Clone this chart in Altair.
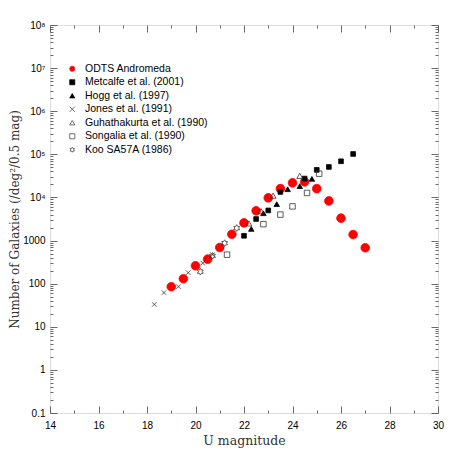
import altair as alt
import pandas as pd

series_names = [
    "ODTS Andromeda",
    "Metcalfe et al. (2001)",
    "Hogg et al. (1997)",
    "Jones et al. (1991)",
    "Guhathakurta et al. (1990)",
    "Songalia et al. (1990)",
    "Koo SA57A (1986)",
]

odts_mag = [19.0, 19.5, 20.0, 20.5, 21.0, 21.5, 22.0, 22.5, 23.0, 23.5, 24.0, 24.5, 25.0, 25.5, 26.0, 26.5, 27.0]
odts_n = [85, 130, 260, 370, 690, 1400, 2570, 4900, 9800, 16000, 21800, 23000, 16000, 8300, 3300, 1380, 680]

metcalfe_mag = [22.0, 22.5, 23.0, 23.5, 24.5, 25.0, 25.5, 26.0, 26.5]
metcalfe_n = [1290, 3160, 5000, 13400, 27400, 43600, 51000, 69000, 102000]

hogg_mag = [22.3, 22.8, 23.35, 23.8, 24.3, 24.8]
hogg_n = [1860, 4300, 7000, 15500, 18300, 27000]

jones_mag = [18.3, 18.7, 19.3, 19.7, 20.3, 20.7]
jones_n = [33, 62, 85, 180, 300, 470]

guha_mag = [22.2, 22.7, 23.2, 24.3]
guha_n = [2500, 4800, 11000, 31700]

song_mag = [21.3, 22.8, 23.5, 24.0, 24.6, 25.1]
song_n = [470, 2400, 4000, 6200, 12700, 35600]

koo_mag = [20.2, 20.7, 21.2, 21.7]
koo_n = [190, 440, 870, 1950]

x_major = [14, 16, 18, 20, 22, 24, 26, 28, 30]
x_minor = [15, 17, 19, 21, 23, 25, 27, 29]
y_major = [0.1, 1, 10, 100, 1000, 1e4, 1e5, 1e6, 1e7, 1e8]
y_labels = ["0.1", "1", "10", "100", "1000", "10⁴", "10⁵", "10⁶", "10⁷", "10⁸"]
y_minor = [m * 10.0 ** k for k in range(-1, 8) for m in range(2, 10)]

cross_path = "M-1,-1L1,1M-1,1L1,-1"
hex_path = ("M0,-1L0.289,-0.5L0.866,-0.5L0.577,0L0.866,0.5L0.289,0.5L0,1"
            "L-0.289,0.5L-0.866,0.5L-0.577,0L-0.866,-0.5L-0.289,-0.5Z")

series_data = [
    (odts_mag, odts_n), (metcalfe_mag, metcalfe_n), (hogg_mag, hogg_n),
    (jones_mag, jones_n), (guha_mag, guha_n), (song_mag, song_n), (koo_mag, koo_n),
]
rows = []
for name, (mags, ns) in zip(series_names, series_data):
    for m, n in zip(mags, ns):
        rows.append({"series": name, "mag": m, "n": n})
df = pd.DataFrame(rows)

parts = ""
for v, lab in reversed(list(zip(y_major, y_labels))):
    parts += f"datum.value > {v * 0.5} ? '{lab}' : "
label_expr = parts + "''"

xscale = alt.Scale(domain=[14, 30], nice=False, zero=False)
yscale = alt.Scale(type="log", domain=[0.1, 1e8], nice=False)

AX = "#444444"
MAJ = 7
MIN = 3


def xaxis(orient, values, size, labels, title=""):
    kw = dict(orient=orient, values=values, tickSize=size, offset=-size, domain=False,
              grid=False, labels=labels, title=title, tickColor=AX, tickWidth=0.8)
    if labels:
        kw.update(labelFont="Liberation Sans", labelFontSize=10, labelColor="#000",
                  labelPadding=7, labelFlush=False,
                  titleFont="DejaVu Serif", titleFontSize=12.5, titleFontWeight="normal",
                  titleColor="#333", titlePadding=4)
    return alt.Axis(**kw)


def yaxis(orient, values, size, labels, title=""):
    kw = dict(orient=orient, values=values, tickSize=size, offset=-size, domain=False,
              grid=False, labels=labels, title=title, tickColor=AX, tickWidth=0.8)
    if labels:
        kw.update(labelFont="Liberation Sans", labelFontSize=10, labelColor="#000",
                  labelPadding=5, labelExpr=label_expr, labelFlush=False,
                  labelBaseline="middle",
                  titleFont="DejaVu Serif", titleFontSize=12, titleFontWeight="normal",
                  titleColor="#333", titlePadding=1)
    return alt.Axis(**kw)


points = alt.Chart(df).mark_point(opacity=1, strokeWidth=0.8).encode(
    x=alt.X("mag:Q", scale=xscale, axis=xaxis("bottom", x_major, MAJ, True, "U magnitude")),
    y=alt.Y("n:Q", scale=yscale,
            axis=yaxis("left", y_major, MAJ, True, "Number of Galaxies (/deg²/0.5 mag)")),
    shape=alt.Shape("series:N", scale=alt.Scale(
        domain=series_names,
        range=["circle", "square", "triangle-up", cross_path, "triangle-up", "square", hex_path]),
        legend=alt.Legend(orient="none", legendX=17, legendY=38.5, title="",
                          symbolSize=26, symbolStrokeWidth=0.7, labelOffset=7.5,
                          rowPadding=2.5, padding=0,
                          labelFont="Liberation Sans", labelFontSize=10.5, labelColor="#000")),
    fill=alt.Fill("series:N", scale=alt.Scale(
        domain=series_names,
        range=["#ff0000", "#000000", "#000000", "transparent", "transparent", "transparent", "transparent"])),
    stroke=alt.Stroke("series:N", scale=alt.Scale(
        domain=series_names,
        range=["#ff0000", "#000000", "#000000", "#333333", "#333333", "#333333", "#333333"])),
    size=alt.Size("series:N", sort=series_names, scale=alt.Scale(
        type="ordinal", range=[75, 22, 30, 20, 36, 30, 45]), legend=None),
)


def ghost(xa, ya):
    return alt.Chart(df).mark_point(opacity=0).encode(
        x=alt.X("mag:Q", scale=xscale, axis=xa),
        y=alt.Y("n:Q", scale=yscale, axis=ya),
    )


g1 = ghost(xaxis("bottom", x_minor, MIN, False), yaxis("left", y_minor, MIN, False))
g2 = ghost(xaxis("top", x_major, MAJ, False), yaxis("right", y_major, MAJ, False))
g3 = ghost(xaxis("top", x_minor, MIN, False), yaxis("right", y_minor, MIN, False))

chart = alt.layer(points, g1, g2, g3).resolve_axis(
    x="independent", y="independent"
).properties(
    width=388, height=388,
    autosize=alt.AutoSizeParams(type="none"),
    padding={"left": 42, "top": 17, "right": 10, "bottom": 40},
).configure_view(stroke=AX, strokeWidth=1).configure(background="white")

chart.save("out.html", embed_options={"renderer": "svg", "actions": False})
